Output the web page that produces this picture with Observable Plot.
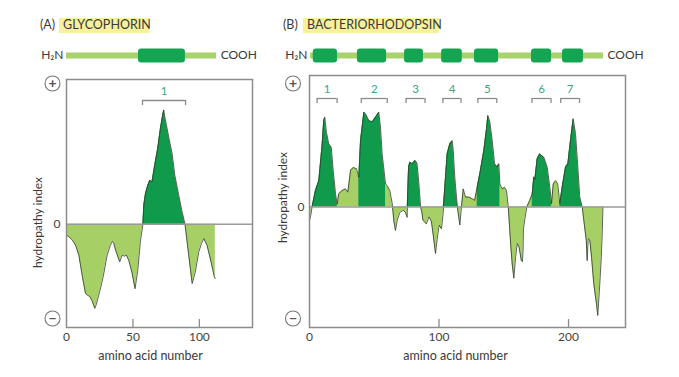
<!DOCTYPE html>
<html><head><meta charset="utf-8">
<script src="https://cdn.jsdelivr.net/npm/d3@7"></script>
<script src="https://cdn.jsdelivr.net/npm/@observablehq/plot@0.6"></script>
<style>
body{margin:0;background:#fff;}
#wrap{position:relative;width:679px;height:377px;overflow:hidden;font-family:Lato,"Open Sans",sans-serif;}
.panel{position:absolute;top:0;}
.title{position:absolute;top:17px;font-size:12.5px;line-height:16px;color:#3a3a3a;white-space:nowrap;}
.hl{position:absolute;top:18px;height:15px;background:#f6f19a;}
</style></head>
<body><div id="wrap"></div>
<script>
// ---- Panel A: glycophorin hydropathy profile ----
const glycoX = [0, 2, 4.5, 7, 9.3, 11.8, 14.3, 16, 17.6, 19.5, 21.3, 22.5, 24.3, 26, 27.6, 30.6, 32.6, 34.4, 35.5, 36.9, 38.5, 40.1, 41.9, 43.5, 45.1, 46.9, 49.4, 51.6, 53.6, 55.6, 57.5, 58.2, 59.5, 61.2, 62.7, 64.4, 66.2, 68.7, 70.7, 72.4, 73.2, 74.2, 75.2, 77.7, 79.5, 81.5, 84.5, 87, 89.2, 92, 94.6, 97, 99.5, 101.5, 103.3, 105.8, 108.8, 111.3, 112];
const glycoY = [-0.21, -0.25, -0.31, -0.42, -0.6, -0.99, -1.34, -1.38, -1.4, -1.5, -1.63, -1.55, -1.37, -1.2, -1.02, -0.6, -0.44, -0.33, -0.36, -0.5, -0.62, -0.73, -0.6, -0.62, -0.6, -0.7, -0.95, -1.25, -0.9, -0.34, 0, 0.37, 0.6, 0.75, 0.85, 0.82, 1.11, 1.47, 1.85, 2.11, 2.21, 2.05, 1.92, 1.59, 1.37, 0.95, 0.56, 0.24, 0, -0.6, -1.15, -0.92, -0.54, -0.38, -0.28, -0.41, -0.73, -1.02, -1.05];
const glycoLength = 113;
const glycoBoxStart = [54.2];
const glycoBoxEnd = [89.5];
const glycoBracketStart = [57.2];
const glycoBracketEnd = [89.6];
const glycoDarkStart = [57.5];
const glycoDarkEnd = [89.2];
const glycoLabels = ["1"];
const glycoTicks = [0, 50, 100];

// ---- Panel B: bacteriorhodopsin hydropathy profile ----
const bactX = [0, 1, 2, 4.6, 7.2, 9.8, 11, 11.8, 13.1, 14.9, 16.8, 18.3, 20.1, 21.4, 22.5, 25.2, 27.8, 29.6, 31.7, 33.7, 36.3, 38.1, 39.4, 42, 43.2, 45.8, 48.4, 51, 53.5, 54.8, 56.1, 58.7, 60, 62, 63.9, 65.1, 66.4, 67.7, 69.7, 72.4, 74.1, 75.4, 75.9, 76.5, 77.5, 79.3, 81.5, 83, 84.4, 85.8, 86.8, 87.6, 90.2, 92.2, 94.1, 95.4, 97.3, 98.5, 100.1, 101.9, 103.2, 104, 105, 106.3, 108.3, 110.2, 111, 112.2, 113.5, 114.5, 116.1, 117.1, 118.7, 120.5, 123.1, 125.7, 127.5, 129.5, 132, 134.6, 136.7, 137.7, 139.3, 141.1, 142.9, 145, 146.2, 147, 148.8, 150.6, 152.1, 153.5, 154.5, 155.5, 156.5, 157.8, 159.1, 160.4, 161.8, 163.6, 164.4, 164.9, 165.2, 166.4, 167.8, 170, 172, 173.2, 174, 175.8, 177.8, 179.5, 180.9, 183.5, 185.6, 186.9, 188.2, 190, 191.7, 193.3, 195.1, 197.7, 199.5, 201.5, 203.6, 205.4, 207.2, 208.7, 210.6, 211.8, 213.7, 214.4, 215.2, 216.5, 217.8, 219.5, 221.6, 222.6, 224, 225.3, 226, 226.6];
const bactY = [-0.25, -0.15, 0, 0.3, 0.48, 1.15, 1.58, 1.64, 1.36, 1.15, 1.09, 0.67, 0.24, 0.05, 0.24, 0.3, 0.33, 0.27, 0.67, 0.72, 0.7, 0.54, 1.21, 1.73, 1.7, 1.58, 1.55, 1.64, 1.73, 1.46, 0.97, 0.42, 0.39, 0.3, 0.06, -0.25, -0.43, -0.25, -0.1, -0.06, -0.1, -0.19, 0.3, 0.73, 0.82, 0.79, 0.85, 0.8, 0.45, 0, -0.1, -0.24, -0.31, -0.18, -0.26, -0.49, -0.85, -0.6, -0.33, -0.4, -0.12, 0.2, 0.54, 0.97, 1.15, 1.21, 1.03, 0.54, 0.18, -0.06, -0.33, -0.06, 0.33, 0.18, 0.18, 0.15, 0.12, 0.36, 0.67, 1.03, 1.43, 1.67, 1.55, 1.21, 0.79, 0.73, 0.79, 0.42, 0.33, 0.36, 0.3, 0, -0.37, -0.73, -1.04, -1.3, -0.92, -0.67, -0.73, -0.98, -1.0, -0.79, -0.4, -0.21, 0, 0.12, 0.24, 0.55, 0.5, 0.88, 0.97, 0.93, 0.91, 0.73, 0.36, 0.06, 0.42, 0.48, 0.42, 0.06, 0.36, 0.73, 0.79, 1.21, 1.61, 1.34, 0.73, 0.18, 0, -0.24, -0.61, -0.98, -0.58, -0.61, -0.92, -1.4, -1.77, -1.98, -1.46, -0.92, -0.49, 0];
const bactLength = 227;
const bactBoxStart = [2.9, 37, 73.4, 102, 127.4, 171.4, 195.4];
const bactBoxEnd = [21.6, 59.5, 88, 118, 146, 186.9, 211.6];
const bactBracketStart = [5.9, 40, 74.6, 103, 130, 171.8, 194];
const bactBracketEnd = [21.3, 60, 89.2, 117, 144.6, 186.5, 208.5];
const bactDarkStart = [2, 38.1, 75.4, 103.2, 128.5, 172, 193.3];
const bactDarkEnd = [21.4, 58.7, 85.8, 114.5, 147, 186.9, 210.6];
const bactLabels = ["1", "2", "3", "4", "5", "6", "7"];
const bactTicks = [0, 100, 200];

const DARK = "#0f9a4c", LIGHT = "#a6cf66", BAR = "#a8d26c", BOX = "#14a552";
const GREY = "#8c8c8c", TEAL = "#3aa57e", INK = "#3a3a3a";

function panel(cfg) {
  const {left, width, fL, fR, fT, fB, xDom, yDom} = cfg;
  const xAt = gx => xDom[0] + (gx - fL) / (fR - fL) * (xDom[1] - xDom[0]);
  const yAt = gy => yDom[1] - (gy - fT) / (fB - fT) * (yDom[1] - yDom[0]);
  const rows = cfg.xs.map((x, i) => ({x, y: cfg.ys[i]}));
  const dark = [];
  cfg.darkStart.forEach((s, h) => rows.forEach(r => {
    if (r.x >= s && r.x <= cfg.darkEnd[h]) dark.push({x: r.x, y: r.y, h});
  }));
  const boxes = cfg.boxStart.map((s, i) => ({s, e: cfg.boxEnd[i]}));
  const brackets = cfg.brStart.map((s, i) => ({s, e: cfg.brEnd[i], label: cfg.labels[i]}));
  const ends = brackets.flatMap(b => [b.s, b.e]);
  const inner = cfg.ticks.filter(t => t > xDom[0]);
  const bY = cfg.bracketY;
  const chart = Plot.plot({
    width, height: 377,
    marginLeft: fL - left, marginRight: left + width - fR,
    marginTop: fT, marginBottom: 377 - fB,
    x: {domain: xDom, ticks: cfg.ticks, tickSize: 0, tickPadding: 5, tickFormat: d => String(d), label: null},
    y: {domain: yDom, ticks: [0], tickSize: 0, tickPadding: cfg.yPad, tickFormat: d => String(d), label: null},
    style: {fontFamily: "Lato, 'Open Sans', sans-serif", fontSize: "12px", background: "transparent", color: "#444", overflow: "visible"},
    marks: [
      Plot.areaY(rows, {x: "x", y: "y", fill: LIGHT}),
      Plot.areaY(dark, {x: "x", y1: 0, y2: d => Math.max(0, d.y), z: "h", fill: DARK}),
      Plot.line(rows, {x: "x", y: "y", stroke: "#2e3a2e", strokeWidth: 0.8}),
      Plot.ruleY([0], {stroke: "#9a9a9a", strokeWidth: 1.5}),
      Plot.ruleX(inner, {y1: yDom[0], y2: yAt(fB - 8), stroke: GREY, strokeWidth: 1.3}),
      Plot.frame({stroke: GREY, strokeWidth: 1.5}),
      // protein diagram
      Plot.ruleY([yAt(55)], {x1: cfg.barStart, x2: cfg.len, stroke: BAR, strokeWidth: 6}),
      Plot.rect(boxes, {x1: "s", x2: "e", y1: yAt(48.5), y2: yAt(62.5), fill: BOX, rx: 3}),
      Plot.text(["H₂N"], {x: cfg.barStart, y: yAt(55), text: d => d, textAnchor: "end", dx: -3, fill: INK, fontSize: 12}),
      Plot.text(["COOH"], {x: cfg.len, y: yAt(55), text: d => d, textAnchor: "start", dx: 4, fill: INK, fontSize: 12}),
      // helix brackets
      Plot.ruleY(brackets, {x1: "s", x2: "e", y: yAt(bY), stroke: GREY, strokeWidth: 1.3}),
      Plot.ruleX(ends, {x: d => d, y1: yAt(bY), y2: yAt(bY + 5), stroke: GREY, strokeWidth: 1.3}),
      Plot.text(brackets, {x: d => (d.s + d.e) / 2, y: yAt(bY - 9), text: "label", fill: TEAL, fontSize: 11.5}),
      // plus / minus circles
      Plot.dot([yAt(83), yAt(318)], {x: xAt(cfg.pmX), y: d => d, r: 7.5, stroke: "#777", strokeWidth: 1.1, fill: "white"}),
      Plot.text([{t: "+", y: yAt(83)}, {t: "−", y: yAt(318)}], {x: xAt(cfg.pmX), y: "y", text: "t", fill: "#555", fontSize: 14, fontWeight: "bold"}),
      // axis titles
      Plot.text(["hydropathy index"], {x: xAt(cfg.yLabX), y: yAt(cfg.yLabY), text: d => d, rotate: -90, fill: INK, fontSize: 12}),
      Plot.text(["amino acid number"], {x: xAt(cfg.xLabX), y: yAt(355), text: d => d, fill: INK, fontSize: 12.5})
    ]
  });
  const div = document.createElement("div");
  div.className = "panel";
  div.style.left = left + "px";
  div.appendChild(chart);
  document.getElementById("wrap").appendChild(div);
}

panel({left: 0, width: 270, fL: 66, fR: 252, fT: 79, fB: 327, xDom: [0, 140], yDom: [-2, 2.8],
  xs: glycoX, ys: glycoY, len: glycoLength, barStart: 0,
  boxStart: glycoBoxStart, boxEnd: glycoBoxEnd, brStart: glycoBracketStart, brEnd: glycoBracketEnd,
  darkStart: glycoDarkStart, darkEnd: glycoDarkEnd, labels: glycoLabels, ticks: glycoTicks,
  yPad: 6, bracketY: 100, pmX: 52, yLabX: 38, yLabY: 222, xLabX: 150});

panel({left: 270, width: 409, fL: 309, fR: 625, fT: 75, fB: 327, xDom: [0, 244], yDom: [-2.2, 2.4],
  xs: bactX, ys: bactY, len: bactLength, barStart: 0.8,
  boxStart: bactBoxStart, boxEnd: bactBoxEnd, brStart: bactBracketStart, brEnd: bactBracketEnd,
  darkStart: bactDarkStart, darkEnd: bactDarkEnd, labels: bactLabels, ticks: bactTicks,
  yPad: 5, bracketY: 98, pmX: 292.5, yLabX: 283, yLabY: 197, xLabX: 455});

// titles
const wrap = document.getElementById("wrap");
function title(x, txt, hlX, hlW, word) {
  const hl = document.createElement("div"); hl.className = "hl";
  hl.style.left = hlX + "px"; hl.style.width = hlW + "px"; wrap.appendChild(hl);
  const t = document.createElement("div"); t.className = "title";
  t.style.left = x + "px"; t.textContent = txt; wrap.appendChild(t);
  const w = document.createElement("div"); w.className = "title";
  w.style.left = (hlX + 4) + "px"; w.textContent = word; wrap.appendChild(w);
}
title(40, "(A)", 59, 90, "GLYCOPHORIN");
title(283, "(B)", 303, 136, "BACTERIORHODOPSIN");
</script>
</body></html>
